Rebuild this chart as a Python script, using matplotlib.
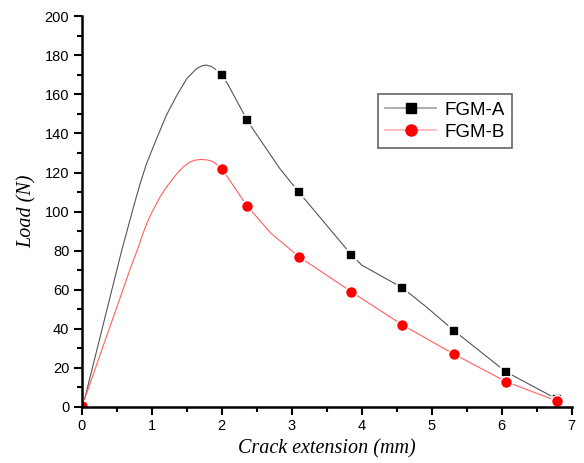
import matplotlib
matplotlib.use("Agg")
import matplotlib.pyplot as plt
from matplotlib.lines import Line2D
from matplotlib.ticker import MultipleLocator

# Marker data
marker_x = [0.0, 2.0, 2.36, 3.1, 3.85, 4.58, 5.32, 6.06, 6.79]
fgm_a = [0.5, 170, 147, 110, 78, 61, 39, 18, 4]
fgm_b = [0.5, 122, 103, 77, 59, 42, 27, 13, 3]

# Traced curve points (line only)
curve_a_x = [0.04, 0.57, 0.74, 0.83, 0.92, 1.0, 1.07, 1.21, 1.36, 1.50,
             1.64, 1.72, 1.78, 1.85, 1.92, 2.0, 2.09, 2.36, 2.45, 2.83,
             3.1, 3.85, 4.0, 4.58, 4.93, 5.32, 6.06, 6.79]
curve_a_y = [4, 80, 102.5, 113.8, 124, 131.2, 137.4, 149.4, 159.6, 168,
             173.2, 174.6, 175, 174.3, 172.6, 170, 165, 147, 142, 122,
             110, 78, 72.6, 61, 51, 39, 18, 4]
curve_b_x = [0.04, 0.72, 0.79, 0.86, 0.93, 1.0, 1.12, 1.22, 1.36, 1.45,
             1.55, 1.63, 1.71, 1.80, 1.88, 2.0, 2.36, 2.7, 3.1, 3.85,
             4.58, 5.32, 6.06, 6.79]
curve_b_y = [4, 73.5, 80, 87.3, 94, 99.5, 107.6, 113, 119.5, 122.8,
             125.5, 126.4, 126.7, 126.4, 125.5, 122, 103, 89, 77, 59,
             42, 27, 13, 3]


def main():

    fig = plt.figure(figsize=(5.84, 4.63), dpi=100)
    ax = fig.add_axes([0.14, 0.121, 0.839, 0.844])

    # Curves
    ax.plot(curve_a_x, curve_a_y, color="#555555", lw=0.8, zorder=2)
    ax.plot(curve_b_x, curve_b_y, color="#ff6060", lw=0.8, zorder=2)

    # Markers
    ax.plot(marker_x, fgm_a, ls="none", marker="s", ms=7.5,
            mfc="black", mec="white", mew=1.2, zorder=3)
    ax.plot(marker_x, fgm_b, ls="none", marker="o", ms=8.5,
            mfc="red", mec="white", mew=1.0, zorder=3)

    ax.set_xlim(0, 7)
    ax.set_ylim(0, 200)

    ax.xaxis.set_major_locator(MultipleLocator(1))
    ax.xaxis.set_minor_locator(MultipleLocator(0.5))
    ax.yaxis.set_major_locator(MultipleLocator(20))
    ax.yaxis.set_minor_locator(MultipleLocator(10))

    ax.spines["top"].set_visible(False)
    ax.spines["right"].set_visible(False)
    ax.spines["left"].set_linewidth(1.8)
    ax.spines["bottom"].set_linewidth(1.8)
    ax.spines["left"].set_zorder(4)
    ax.spines["bottom"].set_zorder(4)

    ax.tick_params(which="major", direction="out", length=6, width=1.5,
                   labelsize=10.5, pad=3)
    ax.tick_params(which="minor", direction="out", length=3.5, width=1.5)
    for lab in ax.get_xticklabels() + ax.get_yticklabels():
        lab.set_family("Liberation Sans")

    ax.set_xlabel("Crack extension (mm)", family="Liberation Serif",
                  style="italic", fontsize=14.5, labelpad=4)
    ax.set_ylabel("Load (N)", family="Liberation Serif",
                  style="italic", fontsize=14.5, labelpad=6)

    # Legend
    handles = [
        Line2D([], [], color="#a0a0a0", lw=1.2, marker="s", ms=7,
               mfc="black", mec="black"),
        Line2D([], [], color="#ffb0b0", lw=1.2, marker="o", ms=8,
               mfc="red", mec="red"),
    ]
    leg = ax.legend(handles, ["FGM-A", "FGM-B"], loc="upper left",
                    bbox_to_anchor=(0.604, 0.80), borderaxespad=0,
                    frameon=True, fancybox=False, edgecolor="#404040",
                    handlelength=2.7, handletextpad=0.45, borderpad=0.4,
                    labelspacing=0.25,
                    prop={"family": "Liberation Sans", "size": 13.5})
    leg.get_frame().set_linewidth(1.2)

    fig.savefig("out.png", dpi=100)


if __name__ == "__main__":

    main()
